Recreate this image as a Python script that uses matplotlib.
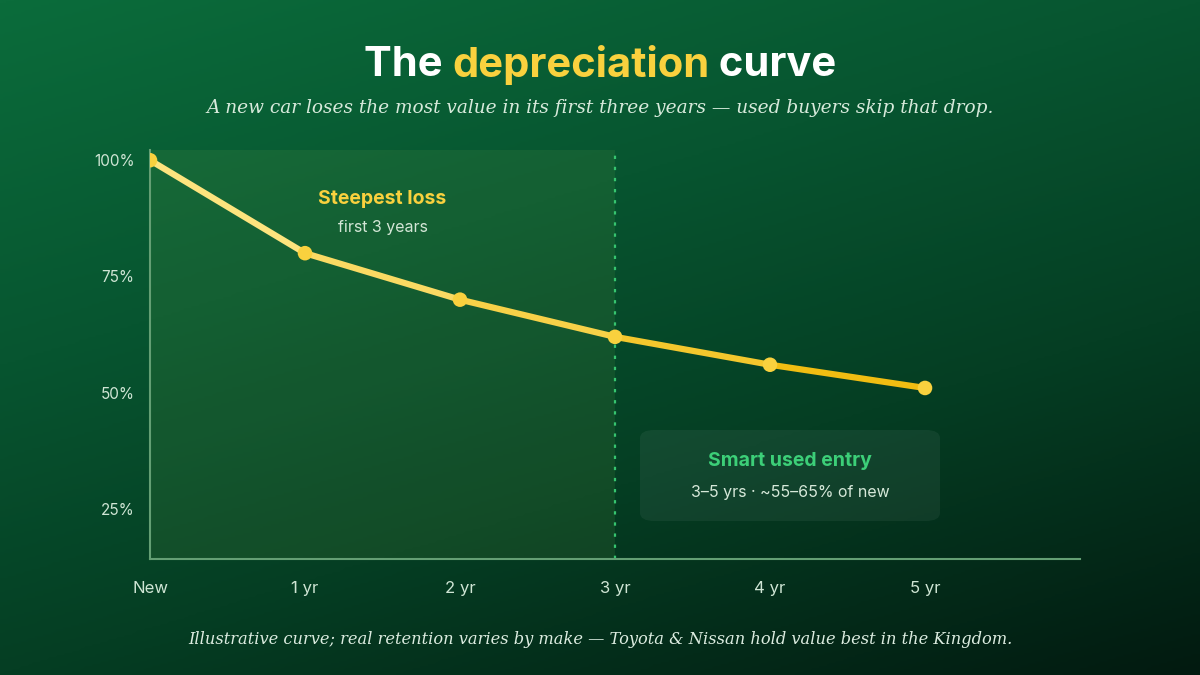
import numpy as np
import matplotlib
matplotlib.use("Agg")
import matplotlib.pyplot as plt
from matplotlib.collections import LineCollection
from matplotlib.patches import FancyBboxPatch
from matplotlib.colors import LinearSegmentedColormap, to_rgb

# ---- data ----
x_labels = ["New", "1 yr", "2 yr", "3 yr", "4 yr", "5 yr"]
retention = [100, 80, 70, 62, 56, 51]
y_ticks = [25, 50, 75, 100]
y_tick_labels = ["25%", "50%", "75%", "100%"]

title_parts = [("The ", "#ffffff"), ("depreciation", "#f9d13e"), (" curve", "#ffffff")]
subtitle = "A new car loses the most value in its first three years \u2014 used buyers skip that drop."
footnote = "Illustrative curve; real retention varies by make \u2014 Toyota & Nissan hold value best in the Kingdom."

W, H = 1200, 675
fig = plt.figure(figsize=(12, 6.75), dpi=100)

# background gradient
bg = fig.add_axes([0, 0, 1, 1], zorder=-10)
bg.set_axis_off()
yy, xx = np.mgrid[0:1:300j, 0:1:300j]
t = 0.35 * xx + 0.65 * yy
cmap_bg = LinearSegmentedColormap.from_list(
    "bg", [(0, "#0b6c3b"), (0.35, "#075530"), (0.65, "#053e23"), (1.0, "#021a10")])
bg.imshow(t, cmap=cmap_bg, vmin=0, vmax=1, aspect="auto", extent=[0, 1, 0, 1], origin="upper")
bg.set_xlim(0, 1); bg.set_ylim(0, 1)

ax = fig.add_axes([150 / W, 1 - 559 / H, (1080 - 150) / W, (559 - 150) / H])
ax.patch.set_alpha(0)
xs = np.arange(len(x_labels))
ax.set_xlim(0, 6)
ax.set_ylim(14.2, 102.2)

# shaded region (first 3 years)
ax.axvspan(0, 3, color="#8cc152", alpha=0.10, lw=0, zorder=0)
ax.axvline(3, color="#36c46f", ls=(0, (1.5, 3.5)), lw=1.6, zorder=1)

# gradient line
pts = np.column_stack([xs, retention]).astype(float)
segs = np.stack([pts[:-1], pts[1:]], axis=1)
c0, c1 = np.array(to_rgb("#fde47e")), np.array(to_rgb("#f1bd12"))
fr = np.linspace(0, 1, len(segs))
cols = [c0 + (c1 - c0) * f for f in fr]
lc = LineCollection(segs, colors=cols, linewidths=4.5, capstyle="round", joinstyle="round", zorder=3)
ax.add_collection(lc)
ax.scatter(xs, retention, s=110, color="#f9d13e", zorder=4, edgecolors="none")

# spines & ticks
for s in ["top", "right"]:
    ax.spines[s].set_visible(False)
for s in ["left", "bottom"]:
    ax.spines[s].set_color("#649f74")
    ax.spines[s].set_linewidth(1.5)
ax.set_xticks(xs)
ax.set_xticklabels(x_labels)
ax.set_yticks(y_ticks)
ax.set_yticklabels(y_tick_labels)
ax.tick_params(axis="both", length=0, colors="#cfe5d4")
ax.tick_params(axis="y", pad=11, labelsize=11)
ax.tick_params(axis="x", pad=16, labelsize=12)
for lab in ax.get_xticklabels() + ax.get_yticklabels():
    lab.set_fontfamily("Inter")

# annotations
ax.text(1.5, 91.6, "Steepest loss", ha="center", va="center", fontsize=14, fontweight="bold",
        color="#f9d13e", family="Inter")
ax.text(1.5, 85.6, "first 3 years", ha="center", va="center", fontsize=11.5,
        color="#d3e6d6", family="Inter")

box = FancyBboxPatch((640 / W, 1 - 521 / H), 300 / W, 91 / H,
                     boxstyle="round,pad=0,rounding_size=0.012", transform=fig.transFigure,
                     facecolor="#ffffff", alpha=0.055, edgecolor="none", zorder=2)
fig.patches.append(box)
fig.text(790 / W, 1 - 461 / H, "Smart used entry", ha="center", va="center", fontsize=14,
         fontweight="bold", color="#3ccf78", family="Inter")
fig.text(790 / W, 1 - 492 / H, "3\u20135 yrs \u00b7 ~55\u201365% of new", ha="center", va="center",
         fontsize=11.5, color="#d6e8d9", family="Inter")

# title with colored word
fig.canvas.draw()
r = fig.canvas.get_renderer()
tmp = []
total = 0
TS = 30
for txt, col in title_parts:
    tt = fig.text(0, 0, txt.replace(" ", "\u00a0"), fontsize=TS, fontweight="bold", family="Inter")
    w = tt.get_window_extent(renderer=r).width
    tt.remove()
    tmp.append(w)
    total += w
x0 = (W - total) / 2
for (txt, col), w in zip(title_parts, tmp):
    fig.text(x0 / W, 1 - 65 / H, txt.replace(" ", "\u00a0"), fontsize=TS, fontweight="bold",
             family="Inter", color=col, ha="left", va="center")
    x0 += w

fig.text(0.5, 1 - 108 / H, subtitle, ha="center", va="center", fontsize=13.3, style="italic",
         family="DejaVu Serif", color="#d7eadb")
fig.text(0.5, 1 - 640 / H, footnote, ha="center", va="center", fontsize=11.7, style="italic",
         family="DejaVu Serif", color="#dcece0")

fig.savefig("out.png", dpi=100)
